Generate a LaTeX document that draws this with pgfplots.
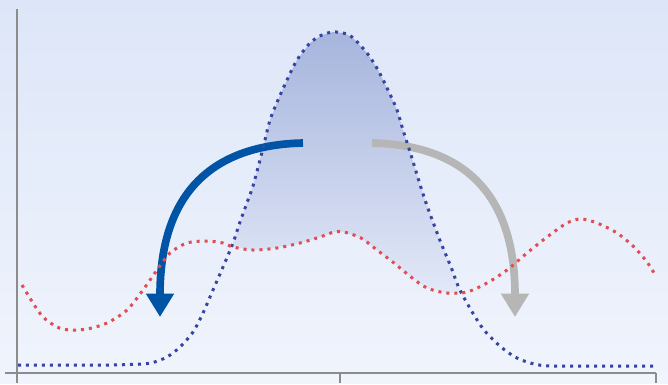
\documentclass[border=0pt]{standalone}
\usepackage{pgfplots}
\pgfplotsset{compat=1.18}
\usetikzlibrary{arrows.meta}

\definecolor{bgtop}{RGB}{221,230,248}
\definecolor{bgbot}{RGB}{240,244,252}
\definecolor{shadetop}{RGB}{166,181,221}
\definecolor{shadebot}{RGB}{226,232,247}
\definecolor{bluedot}{RGB}{55,68,160}
\definecolor{reddot}{RGB}{226,76,82}
\definecolor{bluearrow}{RGB}{0,84,166}
\definecolor{grayarrow}{RGB}{182,182,182}
\definecolor{axisgray}{RGB}{140,140,140}

\begin{document}
\begin{tikzpicture}
\begin{axis}[
scale only axis,
width = 20.04cm, height = 11.49cm,
xmin = 0, xmax = 668,
ymin = 0, ymax = 383,
y dir = reverse,
axis lines = none,
clip = false,
]
% Background
\fill[top color = bgtop, bottom color = bgbot] (axis cs:0,0) rectangle (axis cs:668,383);

% Shaded region between the two curves
\addplot[draw = none, top color = shadetop, bottom color = shadebot] coordinates {
(232,246) (233,243) (240,222) (248,200) (253,186) (260,160) (265,140) (270,120)
(278,100) (287,80) (297,60) (310,43) (322,35) (333,32) (343,33) (352,37)
(367,53) (378,70) (388,90) (397,110) (403,130) (411,155) (418,178) (425,200)
(433,222) (441,243) (451,267) (460,292)
(447,293) (427,288) (411,277) (394,263) (377,250) (361,238) (344,232) (334,232)
(320,237) (300,243) (277,248) (253,250) (233,247)
} -- cycle;

% Axis lines
\addplot[axisgray, line width = 0.06cm] coordinates {(17,9) (17,383)};
\addplot[axisgray, line width = 0.06cm] coordinates {(5,373) (656,373)};
\addplot[axisgray, line width = 0.06cm] coordinates {(340,373) (340,383)};
\addplot[axisgray, line width = 0.06cm] coordinates {(656,373) (656,383)};

% Arrows
\draw[bluearrow, line width = 0.23cm, -{Triangle[width = 0.8cm, length = 0.7cm]}]
  (axis cs:303,143) .. controls (axis cs:215,145) and (axis cs:160,190) .. (axis cs:160,317);
\draw[grayarrow, line width = 0.23cm, -{Triangle[width = 0.8cm, length = 0.7cm]}]
  (axis cs:372,143) .. controls (axis cs:460,145) and (axis cs:515,190) .. (axis cs:515,317);

% Blue curve
\addplot[bluedot, line width = 0.09cm, dash pattern = on 0.09cm off 0.15cm, smooth] coordinates {
(18,365) (60,365) (110,365) (130,364.5) (143,364) (153,362.5) (167,357) (180,347)
(193,332) (203,313) (213,290) (223,267) (233,243) (240,222) (248,200) (253,186)
(260,160) (265,140) (270,120) (278,100) (287,80) (297,60) (310,43) (322,35)
(333,32) (343,33) (352,37) (367,53) (378,70) (388,90) (397,110) (403,130)
(411,155) (418,178) (425,200) (433,222) (441,243) (451,267) (459,288) (471,310)
(484,330) (501,347) (517,358) (534,364) (551,366) (600,366) (654,366)
};

% Red curve
\addplot[reddot, line width = 0.09cm, dash pattern = on 0.09cm off 0.15cm, smooth] coordinates {
(22,285) (33,303) (43,317) (57,327) (70,330) (87,329) (107,323) (127,310)
(143,290) (157,270) (170,253) (187,243) (207,241) (223,243) (233,247) (253,250)
(277,248) (300,243) (320,237) (334,232) (344,232) (361,238) (377,250) (394,263)
(411,277) (427,288) (447,293) (467,292) (487,283) (507,270) (527,253) (547,237)
(567,223) (581,219) (597,223) (617,233) (634,247) (647,262) (654,273)
};
\end{axis}
\end{tikzpicture}
\end{document}
